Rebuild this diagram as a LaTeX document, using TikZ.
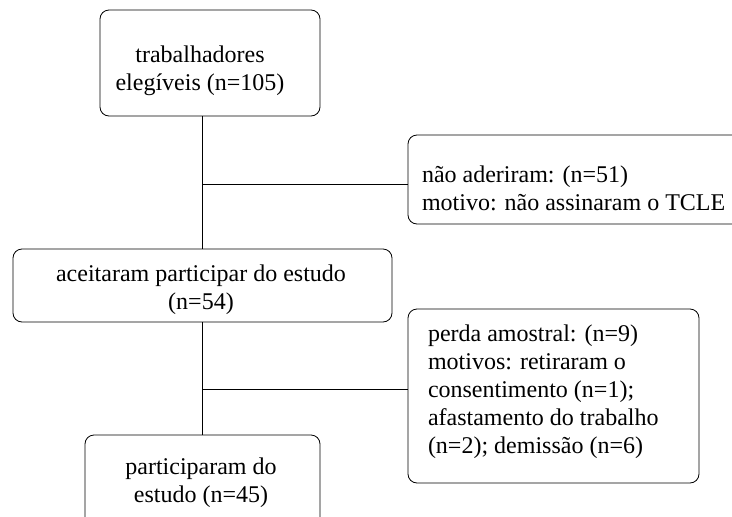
\documentclass[tikz,border=0pt]{standalone}
\usepackage{fontspec}
\setmainfont{Liberation Serif}
\begin{document}
\begin{tikzpicture}[x=1pt,y=-1pt,
  box/.style={draw=black, line width=0.8pt, rounded corners=9pt, inner sep=0pt, outer sep=0pt},
  txt/.style={inner sep=0pt, outer sep=0pt, font=\fontsize{24}{28}\selectfont},
  conn/.style={draw=black, line width=0.8pt}]
\useasboundingbox (0,0) rectangle (732,517);
\node[box, minimum width=220pt, minimum height=106pt] (b1) at (210,63) {};
\node[box, minimum width=337pt, minimum height=89pt] (b2) at (576.5,179.5) {};
\node[box, minimum width=379pt, minimum height=73pt] (b3) at (202.5,285.5) {};
\node[box, minimum width=291pt, minimum height=174pt] (b4) at (553.5,396) {};
\node[box, minimum width=235pt, minimum height=100pt] (b5) at (202.5,485) {};
\node[txt, align=center, anchor=north] (t1) at (200,46) {trabalhadores\\elegíveis (n=105)};
\node[txt, align=left, anchor=north west] (t2) at (422,166) {não aderiram: (n=51)\\motivo: não assinaram o TCLE};
\node[txt, align=center, anchor=north] (t3) at (201,265) {aceitaram participar do estudo\\(n=54)};
\node[txt, align=left, anchor=north west] (t4) at (428,325) {perda amostral: (n=9)\\motivos: retiraram o\\consentimento (n=1);\\afastamento do trabalho\\(n=2); demissão (n=6)};
\node[txt, align=center, anchor=north] (t5) at (201,458) {participaram do\\estudo (n=45)};
\coordinate (j1) at (202,184);
\coordinate (j2) at (202,389);
\draw[conn] (b1.south -| j1) -- (b3.north -| j1);
\draw[conn] (j1) -- (j1 -| b2.west);
\draw[conn] (b3.south -| j2) -- (b5.north -| j2);
\draw[conn] (j2) -- (j2 -| b4.west);
\end{tikzpicture}
\end{document}
